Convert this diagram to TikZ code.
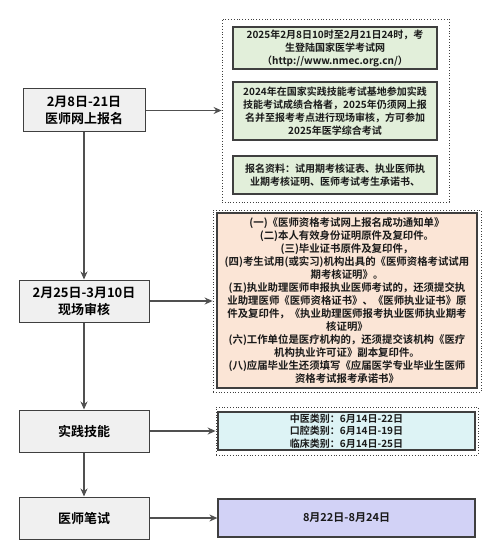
\documentclass[tikz,border=0pt]{standalone}
\usepackage{fontspec}
\setmainfont{Noto Sans CJK SC}[BoldFont={Noto Sans CJK SC Bold}]
\usetikzlibrary{arrows.meta}
\definecolor{stepgray}{HTML}{F0F0F0}
\definecolor{edgegray}{HTML}{3F3F3F}
\definecolor{linegray}{HTML}{505050}
\definecolor{notegreen}{HTML}{E2EFDA}
\definecolor{notepeach}{HTML}{FBE5D6}
\definecolor{notecyan}{HTML}{DDF3F5}
\definecolor{notelilac}{HTML}{D2D2F6}
\begin{document}
\begin{tikzpicture}[x=1pt,y=-1pt,font=\bfseries,align=center,
  stepbox/.style={draw=edgegray,line width=1pt,fill=stepgray,minimum width=130pt,minimum height=42pt,inner sep=0pt,font=\bfseries\fontsize{13}{17}\selectfont},
  notebox/.style={draw=edgegray,line width=1.2pt,inner sep=0pt,font=\bfseries\fontsize{10}{13}\selectfont,text=black!90},
  groupbox/.style={draw=edgegray,dotted,line width=0.8pt,inner sep=0pt},
  flow/.style={draw=linegray,line width=1.2pt,-{Stealth[length=8pt,width=7pt]}}]
\useasboundingbox (0,0) rectangle (500,545);
\node[stepbox,minimum width=122pt,minimum height=43pt] (apply) at (84,110.5) {2月8日-21日\\医师网上报名};
\node[stepbox] (check) at (84,301) {2月25日-3月10日\\现场审核};
\node[stepbox] (skill) at (84,431) {实践技能};
\node[stepbox] (written) at (84,518) {医师笔试};
\node[groupbox,minimum width=227pt,minimum height=183pt] (applyset) at (335.5,110.5) {};
\node[notebox,fill=notegreen,minimum width=204pt,minimum height=42pt] (applytime) at (335,48) {2025年2月8日10时至2月21日24时，考\\生登陆国家医学考试网\\（http://www.nmec.org.cn/）};
\node[notebox,fill=notegreen,minimum width=204pt,minimum height=58pt] (applyrule) at (335,111) {2024年在国家实践技能考试基地参加实践\\技能考试成绩合格者，2025年仍须网上报\\名并至报考考点进行现场审核，方可参加\\2025年医学综合考试};
\node[notebox,fill=notegreen,minimum width=204pt,minimum height=38pt] (applydocs) at (335,175) {报名资料：试用期考核证表、执业医师执\\业期考核证明、医师考试考生承诺书、};
\node[groupbox,minimum width=268pt,minimum height=182pt] (checkset) at (347,301) {};
\node[notebox,fill=notepeach,minimum width=260pt,minimum height=175pt,font=\bfseries\fontsize{10.4}{13}\selectfont] (checkdocs) at (347,300.5) {(一)《医师资格考试网上报名成功通知单》\\(二)本人有效身份证明原件及复印件。\\(三)毕业证书原件及复印件，\\(四)考生试用(或实习)机构出具的《医师资格考试试用\\期考核证明》。\\(五)执业助理医师申报执业医师考试的，还须提交执\\业助理医师《医师资格证书》、《医师执业证书》原\\件及复印件，《执业助理医师报考执业医师执业期考\\核证明》\\(六)工作单位是医疗机构的，还须提交该机构《医疗\\机构执业许可证》副本复印件。\\(八)应届毕业生还须填写《应届医学专业毕业生医师\\资格考试报考承诺书》};
\node[groupbox,minimum width=262pt,minimum height=48pt] (skillset) at (347,431) {};
\node[notebox,fill=notecyan,minimum width=257pt,minimum height=38pt,font=\bfseries\fontsize{10}{12.5}\selectfont] (skilldates) at (346.5,431) {中医类别：6月14日-22日\\口腔类别：6月14日-19日\\临床类别：6月14日-25日};
\node[notebox,fill=notelilac,minimum width=257pt,minimum height=38pt,font=\bfseries\fontsize{11}{13}\selectfont] (writtendates) at (346.5,518) {8月22日-8月24日};
\draw[flow] (apply) -- (check);
\draw[flow] (check) -- (skill);
\draw[flow] (skill) -- (written);
\draw[flow] (apply) -- (applyset);
\draw[flow] (check) -- (checkset);
\draw[flow] (skill) -- (skillset);
\draw[flow] (written) -- (writtendates);
\end{tikzpicture}
\end{document}
